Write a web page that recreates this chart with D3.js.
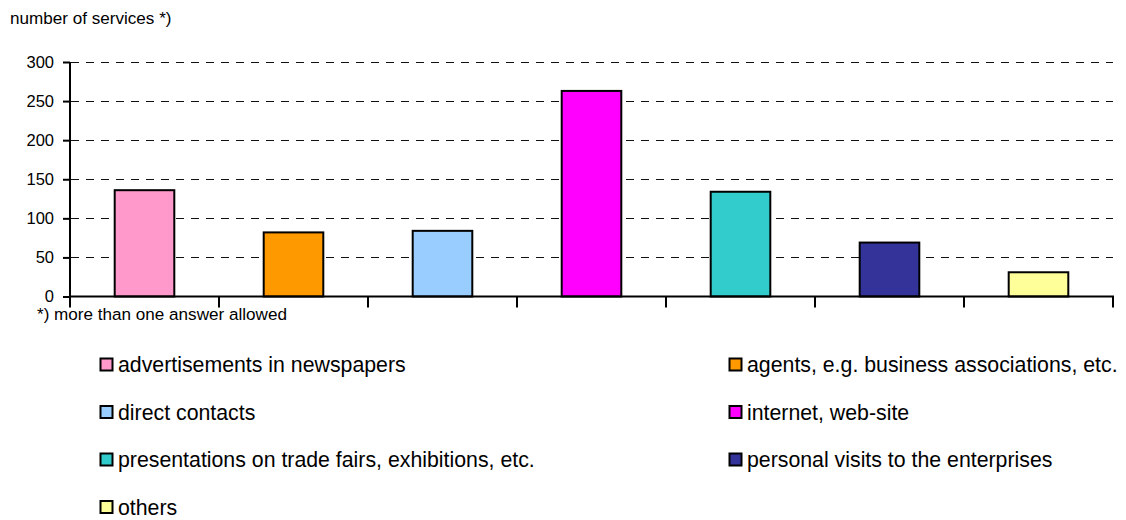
<!DOCTYPE html>
<html>
<head>
<meta charset="utf-8">
<script src="https://cdn.jsdelivr.net/npm/d3@7"></script>
<style>
  html, body { margin: 0; padding: 0; background: #fff; }
  svg { display: block; font-family: Arial, "Liberation Sans", sans-serif; }
</style>
</head>
<body>
<svg id="chart" width="1126" height="520"></svg>
<script>
// Channels used to find customers for services (multiple answers possible)
const categories = [
  "advertisements in newspapers",
  "agents, e.g. business associations, etc.",
  "direct contacts",
  "internet, web-site",
  "presentations on trade fairs, exhibitions, etc.",
  "personal visits to the enterprises",
  "others"
];
const values = [136, 82, 84, 263, 134, 69, 31];
const palette = ["#FF99CC", "#FF9900", "#99CCFF", "#FF00FF", "#33CCCC", "#333399", "#FFFF99"];
const yTicks = [0, 50, 100, 150, 200, 250, 300];

const svg = d3.select("#chart");

const plot = { left: 70, right: 1113, top: 62, bottom: 296.5 };

const x = d3.scaleBand()
  .domain(categories)
  .range([plot.left, plot.right])
  .paddingInner(0.6)
  .paddingOuter(0.3);

const y = d3.scaleLinear()
  .domain([0, 300])
  .range([plot.bottom, plot.top]);

// Axis title and footnote
svg.append("text")
  .attr("x", 10).attr("y", 23.5)
  .attr("font-size", 17.1)
  .attr("fill", "#000")
  .text("number of services *)");

svg.append("text")
  .attr("x", 37).attr("y", 320)
  .attr("font-size", 17.1)
  .attr("fill", "#000")
  .text("*) more than one answer allowed");

// Dashed horizontal gridlines
svg.append("g")
  .selectAll("line")
  .data(yTicks.filter(d => d > 0))
  .join("line")
  .attr("x1", plot.left + 1)
  .attr("x2", plot.right)
  .attr("y1", d => Math.round(y(d)) + 0.5)
  .attr("y2", d => Math.round(y(d)) + 0.5)
  .attr("stroke", "#111")
  .attr("stroke-width", 1.2)
  .attr("stroke-dasharray", "8,7");

// Bars
svg.append("g")
  .selectAll("rect")
  .data(values)
  .join("rect")
  .attr("x", (d, i) => x(categories[i]))
  .attr("y", d => y(d))
  .attr("width", x.bandwidth())
  .attr("height", d => y(0) - y(d))
  .attr("fill", (d, i) => palette[i])
  .attr("stroke", "#000")
  .attr("stroke-width", 2);

// Y axis
const yAxis = d3.axisLeft(y)
  .tickValues(yTicks)
  .tickSize(7)
  .tickPadding(9);

const gy = svg.append("g")
  .attr("transform", `translate(${plot.left},0)`)
  .call(yAxis);
gy.select(".domain").attr("stroke", "#000").attr("stroke-width", 2)
  .attr("d", `M0,${plot.top}V${plot.bottom}`);
gy.selectAll(".tick line").attr("stroke", "#000").attr("stroke-width", 2);
gy.selectAll(".tick text")
  .attr("font-size", 16.5)
  .attr("font-family", "Arial, 'Liberation Sans', sans-serif")
  .attr("fill", "#000");

// X axis: baseline with ticks at category boundaries
const step = x.step();
const boundaries = d3.range(categories.length + 1).map(i => plot.left + i * step);

svg.append("line")
  .attr("x1", plot.left - 1)
  .attr("x2", plot.right + 1)
  .attr("y1", plot.bottom)
  .attr("y2", plot.bottom)
  .attr("stroke", "#000")
  .attr("stroke-width", 2);

svg.append("g")
  .selectAll("line")
  .data(boundaries)
  .join("line")
  .attr("x1", d => d)
  .attr("x2", d => d)
  .attr("y1", plot.bottom)
  .attr("y2", plot.bottom + 11)
  .attr("stroke", "#000")
  .attr("stroke-width", 2);

// Legend: two columns
const legendCols = [100, 729];
const legendTop = 364.5;
const rowGap = 47.5;
const sw = 12;

const legend = svg.append("g")
  .selectAll("g")
  .data(categories)
  .join("g")
  .attr("transform", (d, i) =>
    `translate(${legendCols[i % 2]},${legendTop + Math.floor(i / 2) * rowGap})`);

legend.append("rect")
  .attr("x", 0.5)
  .attr("y", -sw / 2)
  .attr("width", sw)
  .attr("height", sw)
  .attr("fill", (d, i) => palette[i])
  .attr("stroke", "#000")
  .attr("stroke-width", 2);

legend.append("text")
  .attr("x", 18)
  .attr("y", 7.5)
  .attr("font-size", 21.3)
  .attr("fill", "#000")
  .text(d => d);
</script>
</body>
</html>
